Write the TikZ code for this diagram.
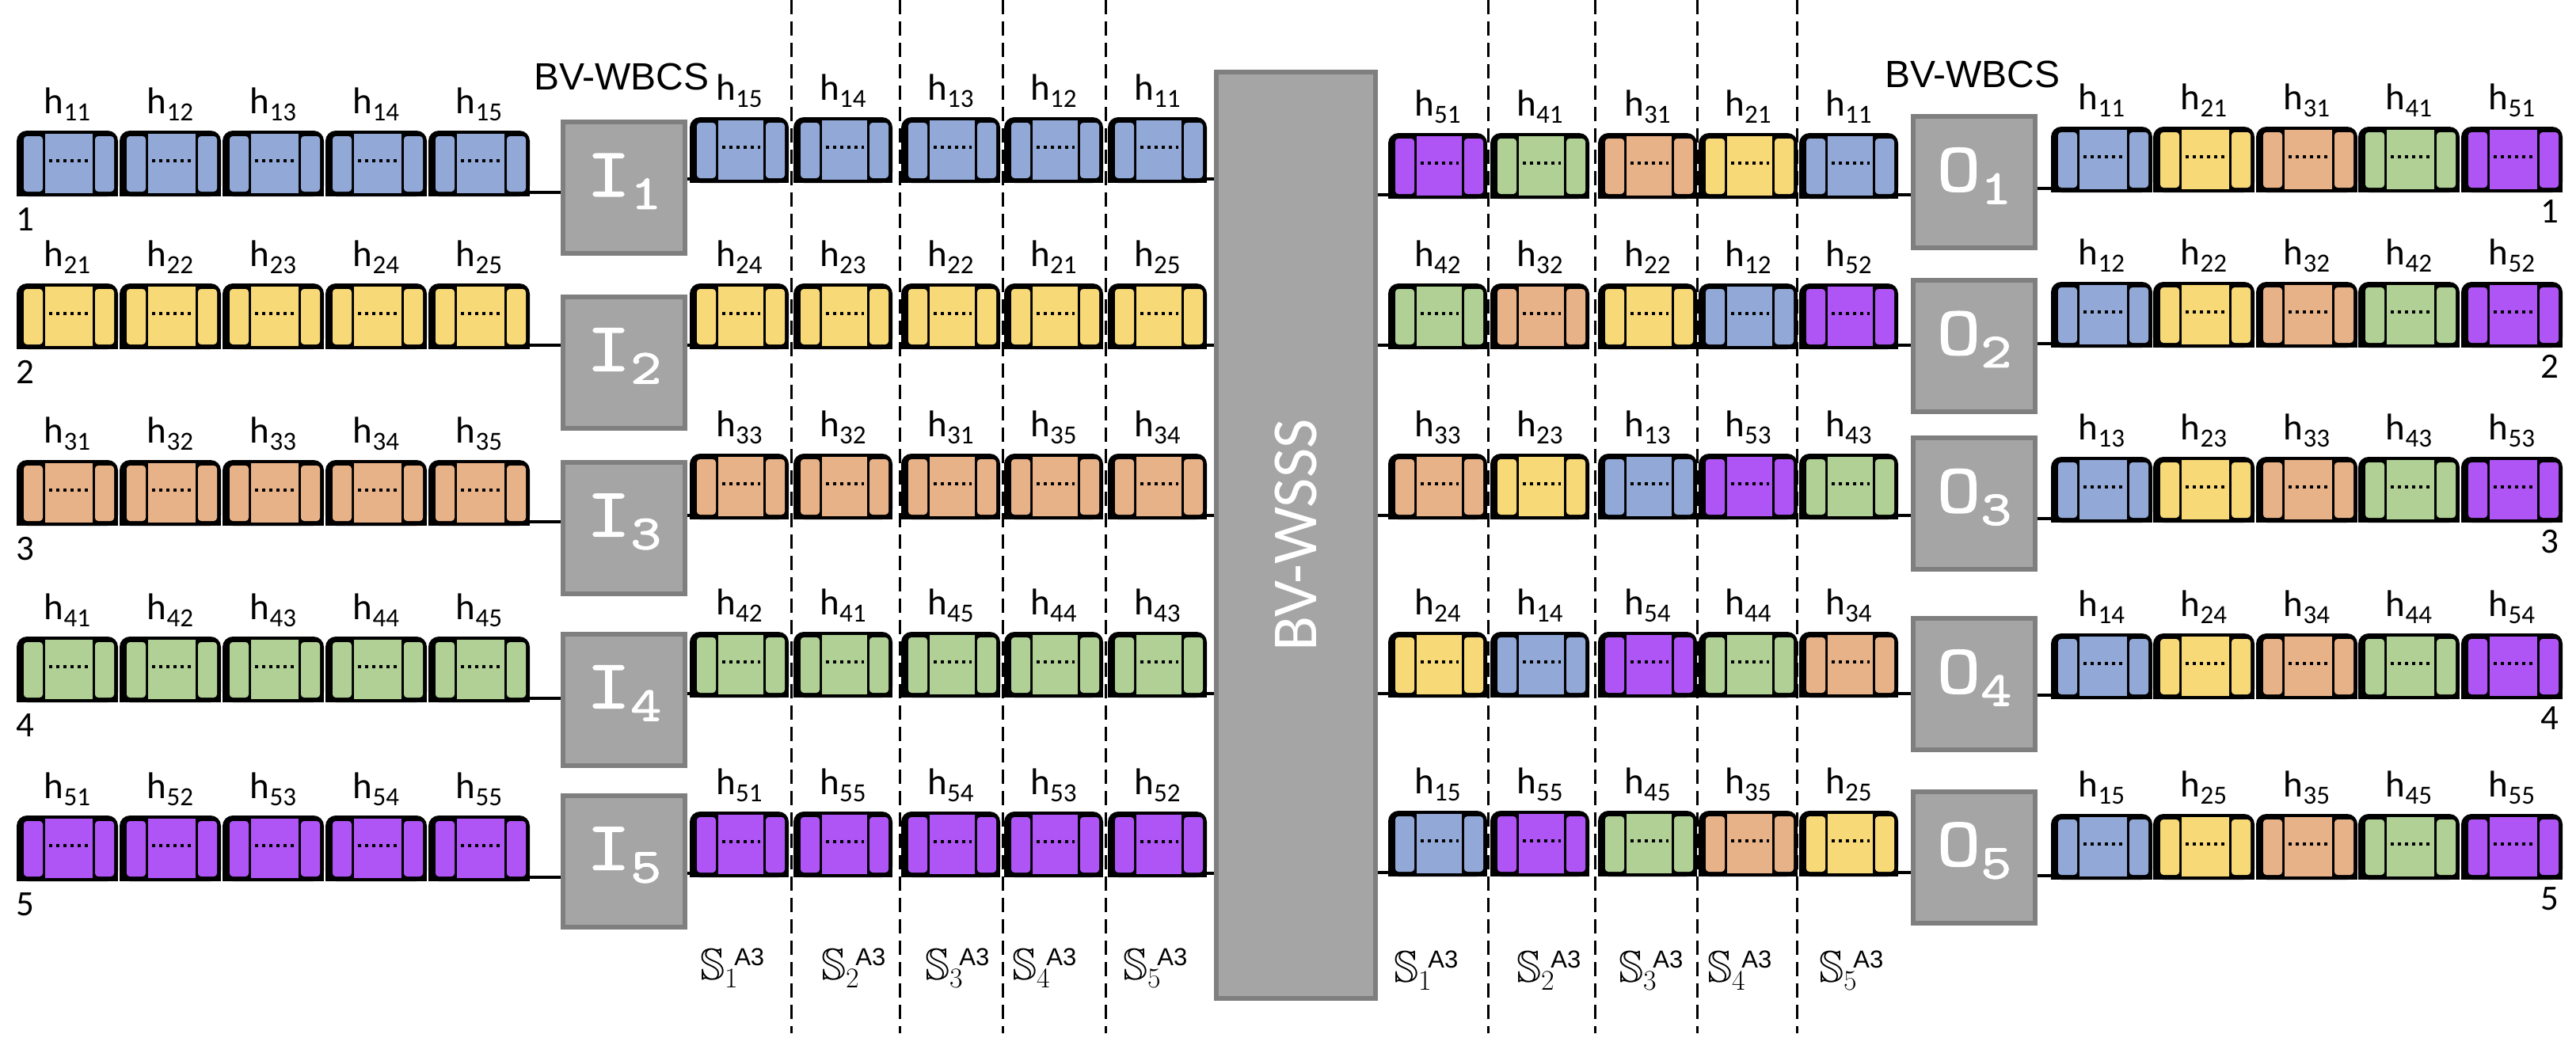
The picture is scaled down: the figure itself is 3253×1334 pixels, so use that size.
\documentclass[tikz,border=0pt]{standalone}
\usepackage{fontspec}
\setmainfont{Carlito}
\newfontfamily\arialf{Liberation Sans}
\newfontfamily\iofont{lmmono10-regular.otf}[FakeBold=1.5]
\DeclareFontFamily{U}{mymsb}{}
\DeclareFontShape{U}{mymsb}{m}{n}{<-> msbm10}{}
\definecolor{c1}{HTML}{92A8D6}
\definecolor{c2}{HTML}{F8D978}
\definecolor{c3}{HTML}{E8B289}
\definecolor{c4}{HTML}{B0D096}
\definecolor{c5}{HTML}{B055F5}
\definecolor{boxfill}{HTML}{A5A5A5}
\definecolor{boxline}{HTML}{7F7F7F}
\tikzset{
  gbox/.style={draw=boxline, fill=boxfill, line width=6pt, inner sep=0pt},
  conn/.style={line width=4pt, black},
  sepline/.style={line width=3pt, black, dash pattern=on 18pt off 9pt},
  hlab/.style={anchor=base, inner sep=0pt, font=\fontsize{47}{50}\selectfont},
  blkn/.style={rectangle, inner sep=0pt, outer sep=0pt, minimum height=83pt},
  iolab/.style={text=white, inner sep=0pt, font=\iofont\fontsize{88}{90}\selectfont},
  numlab/.style={inner sep=0pt, font=\fontsize{45}{50}\selectfont},
  wbcs/.style={anchor=base west, inner sep=0pt, font=\arialf\fontsize{48}{50}\selectfont},
  slabel/.style={anchor=base west, inner sep=0pt}
}
\newcommand\hsub[1]{h\raisebox{-9pt}{\fontsize{33}{33}\selectfont #1}}
\newcommand\iosub[2]{\scalebox{1.2}[1]{#1\raisebox{-16pt}{\fontsize{62}{62}\selectfont #2}}}
\newcommand\slab[1]{{\fontsize{56}{60}\usefont{U}{mymsb}{m}{n}S}\rlap{\raisebox{-10pt}{\fontsize{36}{36}\fontfamily{lmr}\selectfont #1}}\hspace{12pt}\raisebox{18pt}{\arialf\fontsize{31}{31}\selectfont A3}}
\newcommand\rowblocks[6]{%
  \foreach \lab [count=\j] in {#6} {%
    \pgfmathsetmacro\bL{{#4}[\j-1]}%
    \pgfmathtruncatemacro\cd{\lab/10}%
    \pgfmathsetmacro\bT{#3-83}%
    \pgfmathsetmacro\bW{#5}%
    \node[blkn, minimum width=#5pt] (#1-#2-\j) at (\bL+#5/2, #3-41.5) {};
    \fill[black, rounded corners=13pt] (\bL,\bT) rectangle (\bL+\bW,#3);
    \fill[black] (\bL,\bT+20) rectangle (\bL+\bW,#3);
    \fill[c\cd, rounded corners=4pt] (\bL+9,\bT+7) rectangle (\bL+33,#3-6);
    \fill[c\cd] (\bL+36,\bT+4) rectangle (\bL+\bW-32,#3-4);
    \fill[c\cd, rounded corners=4pt] (\bL+\bW-29,\bT+7) rectangle (\bL+\bW-5,#3-6);
    \draw[line width=4pt, dash pattern=on 4pt off 5pt] (\bL+41,\bT+38) -- (\bL+\bW-36,\bT+38);
    \node[hlab] (#1-#2-\j-t) at (\bL+\bW/2,\bT-22) {\hsub{\lab}};
  }%
}
\begin{document}
\begin{tikzpicture}[x=1pt,y=-1pt]
\useasboundingbox (0,0) rectangle (3253,1334);
\fill[white] (0,0) rectangle (3253,1334);
% dashed separators
\foreach \k/\xx in {1/999,2/1136,3/1266,4/1396,5/1879,6/2014,7/2143,8/2269} {
  \coordinate (dt\k) at (\xx,0);
  \coordinate (db\k) at (\xx,1305);
  \draw[sepline] (dt\k) -- (db\k);
}
% left input rows
\rowblocks{a}{1}{248}{21,151,281,411,541}{128}{11,12,13,14,15}
\rowblocks{a}{2}{441}{21,151,281,411,541}{128}{21,22,23,24,25}
\rowblocks{a}{3}{664}{21,151,281,411,541}{128}{31,32,33,34,35}
\rowblocks{a}{4}{887}{21,151,281,411,541}{128}{41,42,43,44,45}
\rowblocks{a}{5}{1113}{21,151,281,411,541}{128}{51,52,53,54,55}
% middle left rows
\rowblocks{ml}{1}{231}{871,1002,1138,1268,1399}{125}{15,14,13,12,11}
\rowblocks{ml}{2}{441}{871,1002,1138,1268,1399}{125}{24,23,22,21,25}
\rowblocks{ml}{3}{656}{871,1002,1138,1268,1399}{125}{33,32,31,35,34}
\rowblocks{ml}{4}{881}{871,1002,1138,1268,1399}{125}{42,41,45,44,43}
\rowblocks{ml}{5}{1108}{871,1002,1138,1268,1399}{125}{51,55,54,53,52}
% middle right rows
\rowblocks{rm}{1}{251}{1753,1882,2018,2145,2272}{125}{51,41,31,21,11}
\rowblocks{rm}{2}{441}{1753,1882,2018,2145,2272}{125}{42,32,22,12,52}
\rowblocks{rm}{3}{656}{1753,1882,2018,2145,2272}{125}{33,23,13,53,43}
\rowblocks{rm}{4}{881}{1753,1882,2018,2145,2272}{125}{24,14,54,44,34}
\rowblocks{rm}{5}{1107}{1753,1882,2018,2145,2272}{125}{15,55,45,35,25}
% right output rows
\rowblocks{ro}{1}{243}{2590,2719,2849,2978,3108}{128}{11,21,31,41,51}
\rowblocks{ro}{2}{439}{2590,2719,2849,2978,3108}{128}{12,22,32,42,52}
\rowblocks{ro}{3}{660}{2590,2719,2849,2978,3108}{128}{13,23,33,43,53}
\rowblocks{ro}{4}{883}{2590,2719,2849,2978,3108}{128}{14,24,34,44,54}
\rowblocks{ro}{5}{1111}{2590,2719,2849,2978,3108}{128}{15,25,35,45,55}
% input / output boxes
\foreach \i/\yy in {1/237,2/457.5,3/667,4/883.5,5/1088} {
  \node[gbox, minimum width=154pt, minimum height=166pt] (I\i) at (788,\yy) {};
  \node[iolab] (I\i t) at ([yshift=8pt]I\i.center) {\iosub{I}{\i}};
}
\foreach \i/\yy in {1/230,2/436.5,3/636,4/864,5/1082.5} {
  \node[gbox, minimum width=154pt, minimum height=166pt] (O\i) at (2493,\yy) {};
  \node[iolab] (O\i t) at ([yshift=8pt]O\i.center) {\iosub{O}{\i}};
}
% switch
\node[gbox, minimum width=201pt, minimum height=1170pt] (wsss) at (1636.5,676) {};
\node[rotate=90, text=white, inner sep=0pt, font=\fontsize{81}{85}\selectfont] (wsssl) at (wsss.center) {BV-WSSS};
% connectors
\foreach \i in {1,...,5} {
  \draw[conn] ([yshift=5pt]a-\i-5.south east) -- ([yshift=5pt]a-\i-5.south east -| I\i.west);
  \draw[conn] ([yshift=5pt]ml-\i-1.south west -| I\i.east) -- ([yshift=5pt]ml-\i-1.south west);
  \draw[conn] ([yshift=5pt]ml-\i-5.south east) -- ([yshift=5pt]ml-\i-5.south east -| wsss.west);
  \draw[conn] ([yshift=5pt]rm-\i-1.south west -| wsss.east) -- ([yshift=5pt]rm-\i-1.south west);
  \draw[conn] ([yshift=5pt]rm-\i-5.south east) -- ([yshift=5pt]rm-\i-5.south east -| O\i.west);
  \draw[conn] ([yshift=5pt]ro-\i-1.south west -| O\i.east) -- ([yshift=5pt]ro-\i-1.south west);
}
% row numbers
\foreach \i/\yy in {1/291,2/484,3/707,4/930,5/1156} {
  \node[numlab, anchor=base west] (nl\i) at (20,\yy) {\i};
}
\foreach \i/\yy in {1/281,2/477,3/698,4/921,5/1149} {
  \node[numlab, anchor=base east] (nr\i) at (3231,\yy) {\i};
}
% titles
\node[wbcs] (wbcsL) at (674,113) {BV-WBCS};
\node[wbcs] (wbcsR) at (2380,110) {BV-WBCS};
% slot labels
\foreach \k/\xx in {1/884,2/1037,3/1168,4/1278,5/1418} {
  \node[slabel] (sl\k) at (\xx,1237) {\slab{\k}};
}
\foreach \k/\xx in {1/1760,2/1915,3/2044,4/2156,5/2297} {
  \node[slabel] (sr\k) at (\xx,1240) {\slab{\k}};
}
\end{tikzpicture}
\end{document}
